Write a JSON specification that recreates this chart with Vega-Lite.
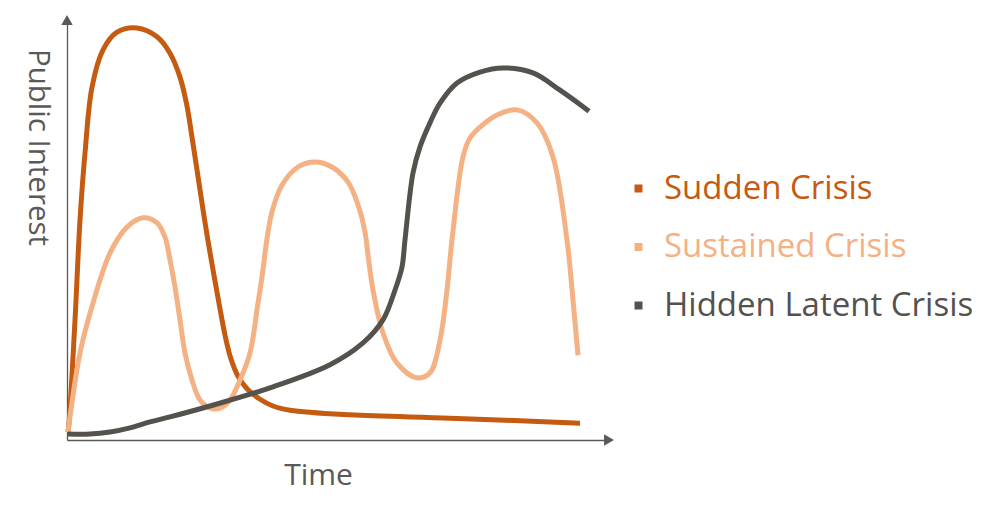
{
  "$schema": "https://vega.github.io/schema/vega-lite/v6.json",
  "width": 542,
  "height": 420,
  "autosize": {"type": "none"},
  "padding": {"left": 67, "top": 20, "right": 391, "bottom": 73},
  "background": "white",
  "config": {"view": {"stroke": null}, "font": "Open Sans"},
  "datasets": {
    "curves": [
      {"series": "Sudden Crisis", "t": 0.18, "v": 1.9},
      {"series": "Sudden Crisis", "t": 0.37, "v": 4.0},
      {"series": "Sudden Crisis", "t": 1.48, "v": 28.6},
      {"series": "Sudden Crisis", "t": 2.4, "v": 52.4},
      {"series": "Sudden Crisis", "t": 3.32, "v": 68.3},
      {"series": "Sudden Crisis", "t": 4.61, "v": 84.0},
      {"series": "Sudden Crisis", "t": 6.64, "v": 92.9},
      {"series": "Sudden Crisis", "t": 9.23, "v": 97.1},
      {"series": "Sudden Crisis", "t": 12.92, "v": 98.1},
      {"series": "Sudden Crisis", "t": 16.61, "v": 96.0},
      {"series": "Sudden Crisis", "t": 19.0, "v": 92.1},
      {"series": "Sudden Crisis", "t": 20.85, "v": 86.4},
      {"series": "Sudden Crisis", "t": 22.14, "v": 79.5},
      {"series": "Sudden Crisis", "t": 23.06, "v": 72.1},
      {"series": "Sudden Crisis", "t": 23.99, "v": 64.3},
      {"series": "Sudden Crisis", "t": 24.91, "v": 56.4},
      {"series": "Sudden Crisis", "t": 25.9, "v": 48.3},
      {"series": "Sudden Crisis", "t": 26.94, "v": 40.5},
      {"series": "Sudden Crisis", "t": 28.04, "v": 32.6},
      {"series": "Sudden Crisis", "t": 29.15, "v": 25.0},
      {"series": "Sudden Crisis", "t": 30.2, "v": 19.5},
      {"series": "Sudden Crisis", "t": 31.5, "v": 15.3},
      {"series": "Sudden Crisis", "t": 33.21, "v": 12.2},
      {"series": "Sudden Crisis", "t": 35.61, "v": 9.7},
      {"series": "Sudden Crisis", "t": 38.0, "v": 8.1},
      {"series": "Sudden Crisis", "t": 41.14, "v": 7.1},
      {"series": "Sudden Crisis", "t": 52.21, "v": 6.0},
      {"series": "Sudden Crisis", "t": 70.66, "v": 5.2},
      {"series": "Sudden Crisis", "t": 94.65, "v": 4.0},
      {"series": "Sustained Crisis", "t": 0.18, "v": 1.9},
      {"series": "Sustained Crisis", "t": 2.4, "v": 20.7},
      {"series": "Sustained Crisis", "t": 4.8, "v": 32.6},
      {"series": "Sustained Crisis", "t": 7.93, "v": 44.5},
      {"series": "Sustained Crisis", "t": 11.07, "v": 50.7},
      {"series": "Sustained Crisis", "t": 14.02, "v": 52.9},
      {"series": "Sustained Crisis", "t": 16.61, "v": 51.7},
      {"series": "Sustained Crisis", "t": 18.08, "v": 48.3},
      {"series": "Sustained Crisis", "t": 19.0, "v": 42.9},
      {"series": "Sustained Crisis", "t": 19.93, "v": 36.4},
      {"series": "Sustained Crisis", "t": 20.85, "v": 28.6},
      {"series": "Sustained Crisis", "t": 21.77, "v": 20.7},
      {"series": "Sustained Crisis", "t": 23.06, "v": 14.3},
      {"series": "Sustained Crisis", "t": 24.54, "v": 9.5},
      {"series": "Sustained Crisis", "t": 26.38, "v": 7.6},
      {"series": "Sustained Crisis", "t": 28.23, "v": 7.6},
      {"series": "Sustained Crisis", "t": 30.07, "v": 9.5},
      {"series": "Sustained Crisis", "t": 31.92, "v": 14.3},
      {"series": "Sustained Crisis", "t": 33.76, "v": 20.7},
      {"series": "Sustained Crisis", "t": 35.24, "v": 32.6},
      {"series": "Sustained Crisis", "t": 36.16, "v": 40.5},
      {"series": "Sustained Crisis", "t": 36.73, "v": 46.4},
      {"series": "Sustained Crisis", "t": 37.82, "v": 54.3},
      {"series": "Sustained Crisis", "t": 39.67, "v": 60.7},
      {"series": "Sustained Crisis", "t": 42.62, "v": 65.0},
      {"series": "Sustained Crisis", "t": 45.76, "v": 66.2},
      {"series": "Sustained Crisis", "t": 48.89, "v": 65.0},
      {"series": "Sustained Crisis", "t": 51.85, "v": 61.4},
      {"series": "Sustained Crisis", "t": 53.69, "v": 56.0},
      {"series": "Sustained Crisis", "t": 54.98, "v": 49.5},
      {"series": "Sustained Crisis", "t": 55.54, "v": 44.0},
      {"series": "Sustained Crisis", "t": 56.46, "v": 35.7},
      {"series": "Sustained Crisis", "t": 58.3, "v": 25.5},
      {"series": "Sustained Crisis", "t": 60.89, "v": 18.3},
      {"series": "Sustained Crisis", "t": 64.58, "v": 14.8},
      {"series": "Sustained Crisis", "t": 66.97, "v": 16.0},
      {"series": "Sustained Crisis", "t": 68.82, "v": 23.8},
      {"series": "Sustained Crisis", "t": 70.11, "v": 35.7},
      {"series": "Sustained Crisis", "t": 71.03, "v": 47.6},
      {"series": "Sustained Crisis", "t": 73.06, "v": 67.4},
      {"series": "Sustained Crisis", "t": 74.35, "v": 71.9},
      {"series": "Sustained Crisis", "t": 76.2, "v": 74.5},
      {"series": "Sustained Crisis", "t": 79.34, "v": 77.4},
      {"series": "Sustained Crisis", "t": 83.03, "v": 78.6},
      {"series": "Sustained Crisis", "t": 86.72, "v": 75.5},
      {"series": "Sustained Crisis", "t": 89.67, "v": 67.4},
      {"series": "Sustained Crisis", "t": 92.25, "v": 47.6},
      {"series": "Sustained Crisis", "t": 93.36, "v": 33.3},
      {"series": "Sustained Crisis", "t": 94.28, "v": 20.2},
      {"series": "Hidden Latent Crisis", "t": 0.18, "v": 1.4},
      {"series": "Hidden Latent Crisis", "t": 4.24, "v": 1.4},
      {"series": "Hidden Latent Crisis", "t": 7.93, "v": 1.9},
      {"series": "Hidden Latent Crisis", "t": 11.62, "v": 2.9},
      {"series": "Hidden Latent Crisis", "t": 15.31, "v": 4.3},
      {"series": "Hidden Latent Crisis", "t": 19.0, "v": 5.5},
      {"series": "Hidden Latent Crisis", "t": 26.38, "v": 8.1},
      {"series": "Hidden Latent Crisis", "t": 37.45, "v": 12.4},
      {"series": "Hidden Latent Crisis", "t": 48.52, "v": 17.9},
      {"series": "Hidden Latent Crisis", "t": 54.61, "v": 23.1},
      {"series": "Hidden Latent Crisis", "t": 58.3, "v": 28.6},
      {"series": "Hidden Latent Crisis", "t": 60.52, "v": 35.7},
      {"series": "Hidden Latent Crisis", "t": 61.81, "v": 41.2},
      {"series": "Hidden Latent Crisis", "t": 62.36, "v": 47.6},
      {"series": "Hidden Latent Crisis", "t": 63.84, "v": 63.6},
      {"series": "Hidden Latent Crisis", "t": 65.13, "v": 69.8},
      {"series": "Hidden Latent Crisis", "t": 66.97, "v": 75.5},
      {"series": "Hidden Latent Crisis", "t": 68.82, "v": 80.2},
      {"series": "Hidden Latent Crisis", "t": 71.96, "v": 85.0},
      {"series": "Hidden Latent Crisis", "t": 76.2, "v": 87.6},
      {"series": "Hidden Latent Crisis", "t": 80.44, "v": 88.6},
      {"series": "Hidden Latent Crisis", "t": 85.98, "v": 87.4},
      {"series": "Hidden Latent Crisis", "t": 90.96, "v": 83.3},
      {"series": "Hidden Latent Crisis", "t": 96.31, "v": 78.3}
    ],
    "arrows": [
      {"t": 0, "v": 100, "shape": "triangle-up"},
      {"t": 100, "v": 0, "shape": "triangle-right"}
    ]
  },
  "layer": [
    {
      "data": {"name": "curves"},
      "mark": {"type": "line", "interpolate": "catmull-rom", "strokeWidth": 5, "clip": false},
      "encoding": {
        "x": {
          "field": "t", "type": "quantitative",
          "scale": {"domain": [0, 100], "nice": false, "zero": false},
          "axis": {
            "title": "Time", "labels": false, "ticks": false, "grid": false,
            "domainColor": "#595959", "domainWidth": 1.3,
            "titleFont": "Open Sans", "titleFontSize": 30, "titleFontWeight": "normal",
            "titleColor": "#595959", "titleX": 251, "titleY": 35, "titleBaseline": "middle", "titleAlign": "center"
          }
        },
        "y": {
          "field": "v", "type": "quantitative",
          "scale": {"domain": [0, 100], "nice": false, "zero": false},
          "axis": {
            "title": "Public Interest", "labels": false, "ticks": false, "grid": false,
            "domainColor": "#595959", "domainWidth": 1.3,
            "titleFont": "Open Sans", "titleFontSize": 29.5, "titleFontWeight": "normal",
            "titleColor": "#595959", "titleAngle": 90, "titleX": -30, "titleY": 127,
            "titleBaseline": "middle", "titleAlign": "center"
          }
        },
        "color": {
          "field": "series", "type": "nominal",
          "scale": {
            "domain": ["Sudden Crisis", "Sustained Crisis", "Hidden Latent Crisis"],
            "range": ["#C55A11", "#F4B183", "#55524E"]
          },
          "legend": {
            "title": null, "orient": "none", "legendX": 555, "legendY": 152,
            "symbolType": "square", "symbolSize": 64, "symbolStrokeWidth": 0,
            "labelFont": "Open Sans", "labelFontSize": 33, "labelOffset": 9,
            "rowPadding": 24.5, "labelLimit": 400,
            "encode": {
              "symbols": {"update": {"fill": {"scale": "color", "field": "value"}, "stroke": {"value": "transparent"}, "opacity": {"value": 1}}},
              "labels": {"update": {"fill": {"scale": "color", "field": "value"}}}
            }
          }
        }
      }
    },
    {
      "data": {"name": "arrows"},
      "mark": {"type": "point", "filled": true, "size": 130, "color": "#595959", "opacity": 1, "clip": false},
      "encoding": {
        "x": {"field": "t", "type": "quantitative"},
        "y": {"field": "v", "type": "quantitative"},
        "shape": {"field": "shape", "type": "nominal", "scale": null}
      }
    }
  ]
}
